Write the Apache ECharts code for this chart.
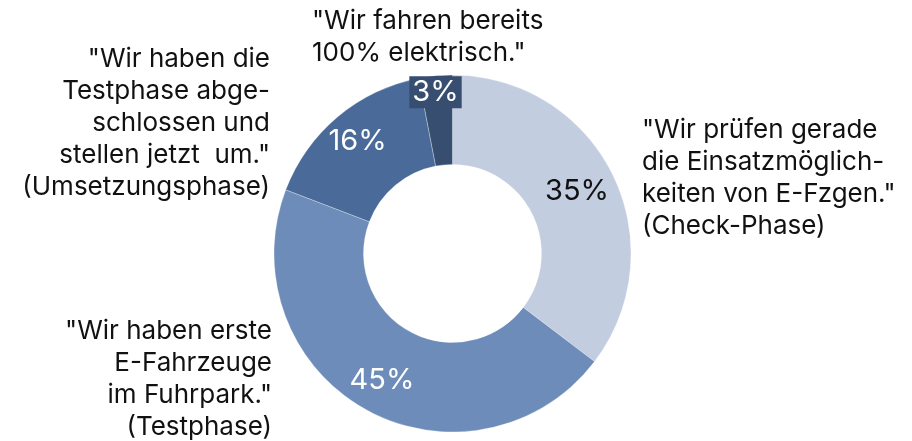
<!DOCTYPE html>
<html>
<head>
<meta charset="utf-8">
<script src="https://cdn.jsdelivr.net/npm/echarts@6/dist/echarts.min.js"></script>
<style>
  html, body { margin: 0; padding: 0; background: #fff; }
  #chart { width: 912px; height: 441px; }
</style>
</head>
<body>
<div id="chart"></div>
<script>
// phases, clockwise from 12 o'clock
const phases = ['Check-Phase', 'Testphase', 'Umsetzungsphase', '100% elektrisch']
const shares = [35, 45, 16, 3]
const phaseTexts = [
  '"Wir prüfen gerade\ndie Einsatzmöglich-\nkeiten von E-Fzgen."\n(Check-Phase)',
  '"Wir haben erste\nE-Fahrzeuge\nim Fuhrpark."\n(Testphase)',
  '"Wir haben die\nTestphase abge-\nschlossen und\nstellen jetzt  um."\n(Umsetzungsphase)',
  '"Wir fahren bereits\n100% elektrisch."'
]

const colors = ['#c2cde0', '#6d8cb9', '#4a6a99', '#374e70']
const labelColors = ['#111', '#fff', '#fff', '#fff']
const labelOffsets = [[2, -1], [-4, 7], [-7, -7], [-4, -25]]
// where the outside texts sit: [x, y, align]
const textSpots = [[642, 114, 'left'], [272, 315, 'right'], [270, 43, 'right'], [312, 5, 'left']]

const font = 'Inter, "Noto Sans", sans-serif'
const chart = echarts.init(document.getElementById('chart'))

chart.setOption({
  animation: false,
  series: [{
    type: 'pie',
    center: [452.5, 253.5],
    radius: [89, 178.5],
    startAngle: 90,
    clockwise: true,
    avoidLabelOverlap: false,
    labelLine: { show: false },
    itemStyle: { borderColor: 'rgba(255,255,255,0.6)', borderWidth: 0.5 },
    emphasis: { disabled: true },
    data: phases.map((p, i) => ({
      name: p,
      value: shares[i],
      itemStyle: { color: colors[i] },
      label: {
        show: true,
        position: 'inside',
        formatter: shares[i] + '%',
        color: labelColors[i],
        fontFamily: font,
        fontSize: 29,
        offset: labelOffsets[i],
        backgroundColor: i === 3 ? colors[3] : 'transparent',
        padding: i === 3 ? [1, 3, 2, 3] : 0
      }
    }))
  }],
  graphic: phaseTexts.map((t, i) => ({
    type: 'text',
    x: textSpots[i][0],
    y: textSpots[i][1],
    style: {
      text: t,
      fill: '#111',
      font: '26px ' + font,
      lineHeight: 32,
      align: textSpots[i][2],
      verticalAlign: 'top'
    }
  }))
})
</script>
</body>
</html>
